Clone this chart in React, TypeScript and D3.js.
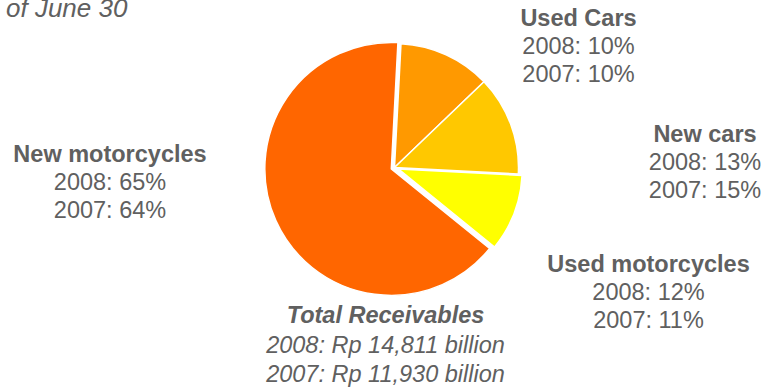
import React from "react";
import * as d3 from "d3";

// Slice order clockwise from the top (as drawn in the picture)
const sliceNames = ["Used Cars", "New cars", "Used motorcycles", "New motorcycles"];
const sliceShares = [12, 13, 10, 65];
const sliceColors = ["#FF9900", "#FFC800", "#FFFF00", "#FF6600"];
const sliceExplode = [0, 0, 4, 3.5];
const sliceRadius = [124, 124, 124, 126.5];

// Label texts
const labelNames = ["Used Cars", "New cars", "Used motorcycles", "New motorcycles"];
const labels2008 = ["10%", "13%", "12%", "65%"];
const labels2007 = ["10%", "15%", "11%", "64%"];
const labelPos = [
  [578.5, 26],
  [705, 141.7],
  [648.5, 271.7],
  [110, 161.7],
];

const totalTitle = "Total Receivables";
const totalLines = ["2008: Rp 14,811 billion", "2007: Rp 11,930 billion"];
const subtitle = "of June 30";

const W = 763;
const H = 390;
const cx = 394.5;
const cy = 167.5;
const FONT = "'Liberation Sans', Arial, sans-serif";
const TEXT = "#606060";
const FS = 23.5;
const LH = 28;

export default function App() {
  const pie = d3
    .pie<number>()
    .sort(null)
    .startAngle((3 * Math.PI) / 180)
    .endAngle((363 * Math.PI) / 180)
    .value((d) => d);
  const arcs = pie(sliceShares);

  return (
    <svg
      width={W}
      height={H}
      style={{ position: "absolute", left: 0, top: 0, background: "#fff" }}
      fontFamily={FONT}
    >
      <text x={6} y={16.7} fontSize={26} fontStyle="italic" fill={TEXT}>
        {subtitle}
      </text>
      <g transform={`translate(${cx},${cy})`}>
        {arcs.map((a, i) => {
          const mid = (a.startAngle + a.endAngle) / 2;
          const dx = Math.sin(mid) * sliceExplode[i];
          const dy = -Math.cos(mid) * sliceExplode[i];
          const arcGen = d3.arc<d3.PieArcDatum<number>>().innerRadius(0).outerRadius(sliceRadius[i]);
          return (
            <path
              key={sliceNames[i]}
              d={arcGen(a) || ""}
              transform={`translate(${dx},${dy})`}
              fill={sliceColors[i]}
              stroke="#fff"
              strokeWidth={1.5}
              strokeLinejoin="round"
            />
          );
        })}
      </g>
      {labelNames.map((n, i) => (
        <text key={n} x={labelPos[i][0]} y={labelPos[i][1]} textAnchor="middle" fontSize={FS} fill={TEXT}>
          <tspan x={labelPos[i][0]} fontWeight="bold">
            {n}
          </tspan>
          <tspan x={labelPos[i][0]} dy={LH}>
            {`2008: ${labels2008[i]}`}
          </tspan>
          <tspan x={labelPos[i][0]} dy={LH}>
            {`2007: ${labels2007[i]}`}
          </tspan>
        </text>
      ))}
      <text x={385.5} y={323.3} textAnchor="middle" fontSize={FS} fill={TEXT} fontStyle="italic">
        <tspan x={385.5} fontWeight="bold">
          {totalTitle}
        </tspan>
        {totalLines.map((l) => (
          <tspan key={l} x={385.5} dy={29.2}>
            {l}
          </tspan>
        ))}
      </text>
    </svg>
  );
}
